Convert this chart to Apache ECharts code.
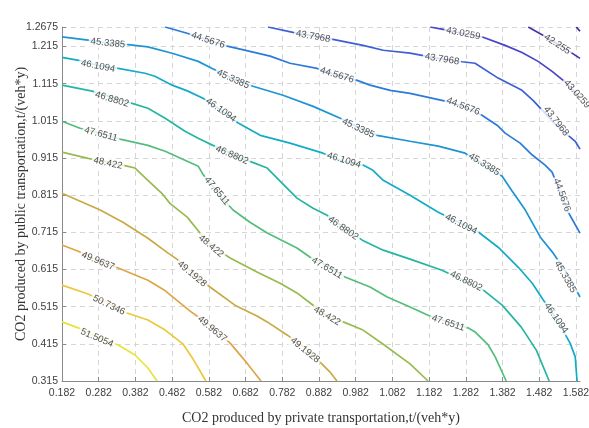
<!DOCTYPE html>
<html><head><meta charset="utf-8">
<script src="https://cdn.jsdelivr.net/npm/echarts@6/dist/echarts.min.js"></script>
<style>html,body{margin:0;padding:0;background:#fff}#c{width:589px;height:428px}</style>
</head><body><div id="c"></div>
<script>
// contour levels (as labelled in the reference)
const levels = [41.4845, 42.255, 43.0259, 43.7968, 44.5676, 45.3385, 46.1094, 46.8802, 47.6511, 48.422, 49.1928, 49.9637, 50.7346, 51.5054];
const levelColors = ['#3b2a9e', '#4433b0', '#4745c8', '#3d5fd6', '#2c7bd8', '#1d95d3', '#14abc6', '#25b6a2', '#55bd7a', '#97bb4f', '#c8aa45', '#dea548', '#ebc83c', '#e8e33a'];

const xTicks = [0.182, 0.282, 0.382, 0.482, 0.582, 0.682, 0.782, 0.882, 0.982, 1.082, 1.182, 1.282, 1.382, 1.482, 1.582];
const yTicks = [0.315, 0.415, 0.515, 0.615, 0.715, 0.815, 0.915, 1.015, 1.115, 1.215, 1.2675];
const xMin = 0.182, xMax = 1.593, yMin = 0.315, yMax = 1.2675;

// contour polylines [x, y]
const c41_4845 = [[1.583,1.2675],[1.593,1.256]];
const c42_255 = [[1.452,1.2675],[1.498,1.242],[1.539,1.218],[1.593,1.183]];
const c43_0259 = [[1.185,1.2675],[1.220,1.261],[1.275,1.250],[1.329,1.240],[1.389,1.218],[1.435,1.199],[1.479,1.175],[1.517,1.148],[1.553,1.119],[1.593,1.076]];
const c43_7968 = [[0.743,1.2675],[0.811,1.253],[0.920,1.234],[1.002,1.218],[1.057,1.205],[1.130,1.197],[1.217,1.181],[1.272,1.174],[1.307,1.170],[1.370,1.130],[1.435,1.097],[1.465,1.070],[1.490,1.044],[1.525,1.006],[1.580,0.960],[1.593,0.939]];
const c44_5676 = [[0.463,1.2675],[0.525,1.250],[0.580,1.232],[0.632,1.216],[0.694,1.202],[0.749,1.189],[0.803,1.170],[0.877,1.156],[0.931,1.138],[0.986,1.124],[1.021,1.111],[1.076,1.097],[1.130,1.089],[1.226,1.068],[1.275,1.054],[1.326,1.030],[1.370,1.001],[1.389,0.982],[1.430,0.955],[1.463,0.923],[1.498,0.896],[1.517,0.877],[1.539,0.823],[1.561,0.769],[1.593,0.713]];
const c45_3385 = [[0.182,1.241],[0.253,1.232],[0.307,1.224],[0.362,1.220],[0.416,1.214],[0.482,1.197],[0.553,1.175],[0.591,1.156],[0.640,1.132],[0.702,1.108],[0.784,1.084],[0.866,1.054],[0.940,1.022],[0.989,0.998],[1.040,0.976],[1.130,0.960],[1.207,0.947],[1.280,0.928],[1.329,0.898],[1.381,0.866],[1.408,0.826],[1.444,0.775],[1.485,0.702],[1.520,0.659],[1.558,0.605],[1.593,0.541]];
const c46_1094 = [[0.182,1.186],[0.231,1.177],[0.280,1.164],[0.335,1.156],[0.408,1.143],[0.435,1.135],[0.482,1.111],[0.525,1.095],[0.566,1.076],[0.607,1.049],[0.662,1.009],[0.722,0.976],[0.803,0.955],[0.893,0.928],[0.948,0.906],[1.002,0.896],[1.029,0.882],[1.057,0.855],[1.130,0.815],[1.207,0.769],[1.266,0.740],[1.316,0.716],[1.370,0.675],[1.425,0.621],[1.463,0.578],[1.493,0.533],[1.531,0.479],[1.566,0.417],[1.580,0.380],[1.585,0.315]];
const c46_8802 = [[0.182,1.111],[0.264,1.095],[0.318,1.078],[0.373,1.062],[0.416,1.049],[0.463,1.022],[0.517,0.987],[0.553,0.968],[0.593,0.949],[0.626,0.936],[0.659,0.917],[0.694,0.906],[0.741,0.888],[0.776,0.853],[0.822,0.807],[0.866,0.780],[0.904,0.761],[0.948,0.729],[1.000,0.694],[1.057,0.667],[1.130,0.643],[1.217,0.613],[1.280,0.584],[1.329,0.560],[1.381,0.519],[1.433,0.460],[1.474,0.398],[1.509,0.315]];
const c47_6511 = [[0.182,1.014],[0.231,0.995],[0.286,0.982],[0.340,0.966],[0.416,0.949],[0.463,0.933],[0.517,0.909],[0.553,0.893],[0.566,0.871],[0.593,0.839],[0.618,0.807],[0.648,0.775],[0.694,0.742],[0.741,0.713],[0.822,0.673],[0.858,0.648],[0.904,0.627],[0.953,0.595],[1.021,0.568],[1.068,0.541],[1.130,0.514],[1.179,0.492],[1.234,0.474],[1.288,0.458],[1.307,0.447],[1.343,0.412],[1.362,0.380],[1.392,0.315]];
const c48_422 = [[0.182,0.931],[0.253,0.914],[0.307,0.904],[0.359,0.893],[0.381,0.888],[0.416,0.855],[0.454,0.820],[0.476,0.793],[0.523,0.756],[0.558,0.713],[0.591,0.678],[0.640,0.646],[0.713,0.608],[0.776,0.578],[0.822,0.552],[0.858,0.525],[0.904,0.490],[0.948,0.474],[1.002,0.452],[1.057,0.414],[1.130,0.361],[1.179,0.315]];
const c49_1928 = [[0.182,0.820],[0.286,0.775],[0.348,0.742],[0.416,0.699],[0.471,0.659],[0.495,0.643],[0.539,0.605],[0.585,0.568],[0.653,0.519],[0.713,0.490],[0.741,0.474],[0.795,0.439],[0.844,0.404],[0.885,0.366],[0.912,0.339],[0.931,0.315]];
const c49_9637 = [[0.182,0.681],[0.226,0.664],[0.280,0.640],[0.335,0.619],[0.416,0.586],[0.460,0.560],[0.531,0.503],[0.558,0.484],[0.593,0.458],[0.640,0.417],[0.686,0.363],[0.724,0.315]];
const c50_7346 = [[0.182,0.573],[0.253,0.549],[0.305,0.525],[0.359,0.498],[0.416,0.479],[0.463,0.452],[0.512,0.414],[0.539,0.374],[0.574,0.315]];
const c51_5054 = [[0.182,0.474],[0.226,0.458],[0.280,0.433],[0.335,0.412],[0.381,0.385],[0.416,0.350],[0.441,0.315]];

// inline contour labels: [level, x, y]
const labelAnchors = [
  [42.255,1.531,1.221],
  [43.0259,1.275,1.250],[43.0259,1.585,1.087],
  [43.7968,0.866,1.242],[43.7968,1.217,1.181],[43.7968,1.528,1.014],
  [44.5676,0.580,1.232],[44.5676,0.931,1.138],[44.5676,1.275,1.054],[44.5676,1.544,0.815],
  [45.3385,0.307,1.224],[45.3385,0.648,1.127],[45.3385,0.989,0.995],[45.3385,1.332,0.898],[45.3385,1.553,0.595],
  [46.1094,0.280,1.162],[46.1094,0.615,1.044],[46.1094,0.950,0.909],[46.1094,1.269,0.737],[46.1094,1.528,0.484],
  [46.8802,0.318,1.073],[46.8802,0.645,0.923],[46.8802,0.948,0.726],[46.8802,1.283,0.584],
  [47.6511,0.288,0.979],[47.6511,0.604,0.826],[47.6511,0.904,0.619],[47.6511,1.234,0.471],
  [48.422,0.307,0.901],[48.422,0.588,0.678],[48.422,0.904,0.490],
  [49.1928,0.536,0.603],[49.1928,0.844,0.398],
  [49.9637,0.280,0.638],[49.9637,0.591,0.455],
  [50.7346,0.310,0.519],
  [51.5054,0.277,0.431]
];
const labelAngles = [-33, -11,-48, -10,-9,-52, -18,-17,-21,-70, -6,-24,-25,-32,-60, -11,-35,-17,-27,-55, -17,-23,-35,-26, -15,-50,-30,-18, -12,-40,-30, -40,-39, -23,-40, -26, -23];

const contourLines = [c41_4845, c42_255, c43_0259, c43_7968, c44_5676, c45_3385, c46_1094, c46_8802, c47_6511, c48_422, c49_1928, c49_9637, c50_7346, c51_5054];

const fmt = v => String(parseFloat(Number(v).toFixed(4)));
const series = contourLines.map((pts, i) => ({
  type: 'line', name: String(levels[i]), data: pts, showSymbol: false, symbol: 'none',
  smooth: false, clip: true, silent: true, z: 2,
  lineStyle: { color: levelColors[i], width: 1.7 }
}));
series.push({
  type: 'scatter', silent: true, z: 5, clip: false, symbolSize: 1,
  itemStyle: { color: 'rgba(0,0,0,0)' },
  data: labelAnchors.map((a, i) => ({ name: String(a[0]), value: [a[1], a[2]], label: { rotate: labelAngles[i] } })),
  label: {
    show: true, position: 'inside', formatter: p => p.name,
    fontSize: 9.6, color: '#262626', fontFamily: 'Liberation Sans, Arial, sans-serif',
    backgroundColor: '#fff', padding: [1, 2]
  }
});

const axisCommon = {
  type: 'value',
  axisLine: { show: true, lineStyle: { color: '#8a8a8a', width: 1 } },
  axisTick: { show: true, inside: true, length: 4, lineStyle: { color: '#8a8a8a' } },
  splitLine: { show: true, lineStyle: { color: '#d6d6d6', type: [5, 4], width: 1 } },
  nameLocation: 'middle',
  nameMoveOverlap: false,
  nameTextStyle: { fontFamily: 'Liberation Serif, Times New Roman, serif', fontSize: 14, color: '#333' }
};

const chart = echarts.init(document.getElementById('c'), null, { renderer: 'canvas' });
chart.setOption({
  animation: false,
  backgroundColor: '#fff',
  grid: { left: 62, top: 27, width: 518, height: 354, containLabel: false, outerBoundsMode: 'none' },
  xAxis: Object.assign({}, axisCommon, {
    min: xMin, max: xMax, interval: 0.1,
    name: 'CO2 produced by private transportation,t/(veh*y)', nameGap: 30,
    axisTick: Object.assign({}, axisCommon.axisTick, { customValues: xTicks }),
    axisLabel: { customValues: xTicks, formatter: fmt, margin: 7, fontSize: 10.5, color: '#404040', fontFamily: 'Liberation Sans, Arial, sans-serif' }
  }),
  yAxis: Object.assign({}, axisCommon, {
    min: yMin, max: yMax, interval: 0.1,
    name: 'CO2 produced by public transportation,t/(veh*y)', nameGap: 34,
    axisTick: Object.assign({}, axisCommon.axisTick, { customValues: yTicks }),
    axisLabel: { customValues: yTicks, formatter: fmt, margin: 4, fontSize: 10.5, color: '#404040', fontFamily: 'Liberation Sans, Arial, sans-serif' }
  }),
  series: series
});
</script></body></html>
